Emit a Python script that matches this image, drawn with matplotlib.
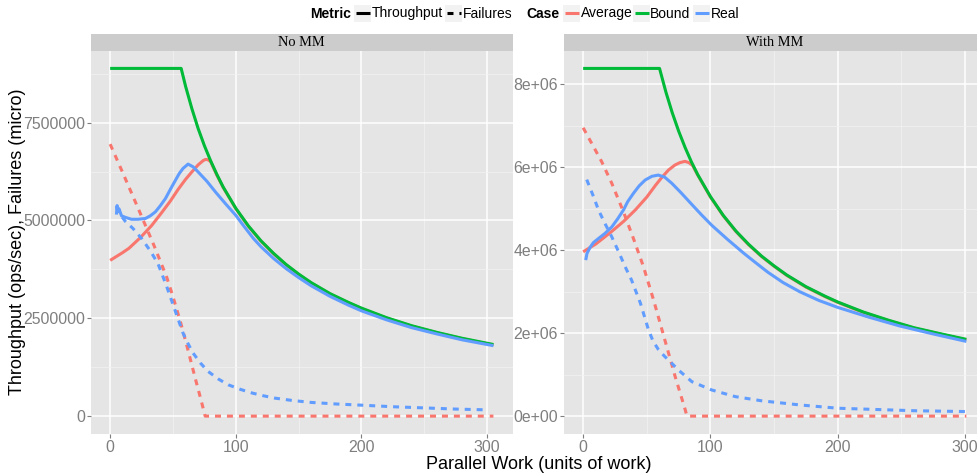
import matplotlib
matplotlib.use("Agg")
import matplotlib.pyplot as plt
from matplotlib.lines import Line2D
from matplotlib.patches import Rectangle
from matplotlib.ticker import FixedLocator

plt.rcParams['font.family'] = ['Liberation Sans', 'DejaVu Sans']
plt.rcParams['lines.scale_dashes'] = False

# ---------------- data (values in millions) ----------------
# Panel "No MM"
nomm_bound_x = [0, 56.5, 60, 65, 70, 75, 80, 85, 90, 100, 110, 120, 130, 140, 150, 160, 175, 190, 200, 220, 240, 260, 280, 305]
nomm_bound_y = [8.885, 8.885, 8.43, 7.86, 7.35, 6.91, 6.52, 6.17, 5.85, 5.31, 4.86, 4.48, 4.16, 3.875, 3.63, 3.41, 3.13, 2.90, 2.76, 2.515, 2.31, 2.14, 1.99, 1.83]
nomm_avg_x = [0, 5, 10, 15, 24, 33, 41, 48, 54, 60, 65, 70, 74, 76, 78, 80, 85, 90, 100, 110, 120, 130, 140, 150, 160, 175, 190, 200, 220, 240, 260, 280, 305]
nomm_avg_y = [3.98, 4.08, 4.18, 4.29, 4.56, 4.87, 5.20, 5.50, 5.79, 6.05, 6.24, 6.42, 6.53, 6.56, 6.55, 6.50, 6.15, 5.84, 5.30, 4.85, 4.47, 4.15, 3.865, 3.62, 3.40, 3.12, 2.89, 2.75, 2.505, 2.30, 2.13, 1.98, 1.82]
nomm_real_x = [5, 5.5, 6, 7, 9, 12, 17, 22, 28, 32, 36, 40, 44, 48, 52, 55, 58, 62, 66, 70, 77, 84, 92, 100, 107, 114, 120, 130, 140, 150, 160, 175, 190, 200, 220, 240, 260, 280, 305]
nomm_real_y = [5.15, 5.38, 5.22, 5.30, 5.12, 5.08, 5.03, 5.03, 5.05, 5.12, 5.22, 5.38, 5.56, 5.80, 6.03, 6.20, 6.33, 6.44, 6.37, 6.24, 6.00, 5.72, 5.42, 5.13, 4.83, 4.54, 4.33, 4.03, 3.77, 3.54, 3.33, 3.06, 2.83, 2.69, 2.46, 2.26, 2.10, 1.95, 1.80]
nomm_avgfail_x = [0, 10, 22, 35, 45, 50, 56, 62, 68, 72, 75.6, 305]
nomm_avgfail_y = [6.95, 6.22, 5.33, 4.35, 3.55, 3.05, 2.40, 1.68, 0.93, 0.45, 0.0, 0.0]
nomm_realfail_x = [5, 8, 12, 18, 25, 32, 38, 41, 45, 52, 58, 62, 66, 72, 78, 86, 94, 104, 113, 122, 131, 145, 160, 180, 200, 225, 250, 275, 300]
nomm_realfail_y = [5.35, 5.15, 4.98, 4.80, 4.54, 4.22, 3.90, 3.65, 3.31, 2.67, 2.12, 1.85, 1.61, 1.35, 1.14, 0.95, 0.80, 0.68, 0.59, 0.52, 0.46, 0.40, 0.35, 0.31, 0.28, 0.24, 0.21, 0.18, 0.16]

# Panel "With MM"
mm_bound_x = [0, 60, 65, 70, 75, 80, 85, 90, 100, 110, 120, 130, 140, 150, 160, 175, 190, 200, 220, 240, 260, 280, 301]
mm_bound_y = [8.38, 8.38, 7.81, 7.31, 6.87, 6.48, 6.13, 5.82, 5.29, 4.84, 4.46, 4.14, 3.86, 3.62, 3.40, 3.12, 2.89, 2.75, 2.51, 2.31, 2.13, 1.99, 1.85]
mm_avg_x = [0, 10, 22, 32, 41, 50, 57, 62, 67, 72, 76, 80, 83, 86, 90, 100, 110, 120, 130, 140, 150, 160, 175, 190, 200, 220, 240, 260, 280, 301]
mm_avg_y = [3.96, 4.15, 4.44, 4.70, 4.97, 5.28, 5.57, 5.76, 5.93, 6.05, 6.11, 6.14, 6.11, 6.04, 5.81, 5.28, 4.83, 4.45, 4.13, 3.85, 3.61, 3.39, 3.11, 2.88, 2.74, 2.50, 2.30, 2.12, 1.98, 1.84]
mm_real_x = [2, 3, 5.5, 8, 12, 17, 22.5, 27, 31.7, 35, 39.5, 44, 48.7, 54, 59, 64, 69.7, 77, 85.4, 93, 101, 113, 126, 135, 145, 157, 170, 185, 200, 225, 249, 275, 301]
mm_real_y = [3.76, 3.92, 4.07, 4.18, 4.28, 4.40, 4.56, 4.75, 4.97, 5.17, 5.37, 5.55, 5.69, 5.78, 5.81, 5.76, 5.61, 5.38, 5.10, 4.85, 4.60, 4.27, 3.93, 3.71, 3.47, 3.22, 3.00, 2.79, 2.62, 2.38, 2.17, 1.98, 1.80]
mm_avgfail_x = [0, 14.6, 22.5, 31.7, 39.5, 47.4, 55.3, 64.5, 72.3, 80.2, 81.5, 301]
mm_avgfail_y = [6.95, 6.13, 5.61, 4.92, 4.28, 3.60, 2.80, 1.80, 0.95, 0.15, 0.0, 0.0]
mm_realfail_x = [2.8, 8, 12, 17, 22.5, 28, 33, 38, 42, 45, 51.3, 55, 59.2, 64, 68.4, 74.9, 85.4, 101, 119.5, 140, 170, 200, 230, 260, 301]
mm_realfail_y = [5.70, 5.30, 4.97, 4.65, 4.32, 3.95, 3.60, 3.28, 2.96, 2.72, 2.08, 1.80, 1.60, 1.44, 1.31, 1.11, 0.83, 0.63, 0.47, 0.37, 0.27, 0.19, 0.16, 0.13, 0.11]

panel_titles = ['No MM', 'With MM']
nomm_yticks = [0, 2500000, 5000000, 7500000]
nomm_ylabels = ['0', '2500000', '5000000', '7500000']
mm_yticks = [0, 2e6, 4e6, 6e6, 8e6]
mm_ylabels = ['0e+00', '2e+06', '4e+06', '6e+06', '8e+06']
xticks = [0, 100, 200, 300]
xlabels = ['0', '100', '200', '300']
case_names = ['Average', 'Bound', 'Real']
metric_names = ['Throughput', 'Failures']

# ---------------- style ----------------
C_AVG, C_BND, C_REAL = '#F8766D', '#00BA38', '#619CFF'
LW = 2.2
DASH = (0, (4.3, 4.3))
W, H = 977, 473
fig = plt.figure(figsize=(W / 100, H / 100), dpi=100)


def fx(px):
    return px / W


def fy(py):
    return 1 - py / H


panels = [
    dict(title=panel_titles[0], left=91, width=421.6, xlim=(-15.25, 320.25), ylim=(-0.444e6, 9.33e6),
         yticks=nomm_yticks, ylabels=nomm_ylabels, yminor=[1.25e6, 3.75e6, 6.25e6, 8.75e6],
         series=[(nomm_avg_x, nomm_avg_y, C_AVG, '-'), (nomm_bound_x, nomm_bound_y, C_BND, '-'),
                 (nomm_real_x, nomm_real_y, C_REAL, '-'),
                 (nomm_avgfail_x, nomm_avgfail_y, C_AVG, DASH), (nomm_realfail_x, nomm_realfail_y, C_REAL, DASH)]),
    dict(title=panel_titles[1], left=564, width=421.5, xlim=(-15.05, 316.05), ylim=(-0.419e6, 8.80e6),
         yticks=mm_yticks, ylabels=mm_ylabels, yminor=[1e6, 3e6, 5e6, 7e6],
         series=[(mm_avg_x, mm_avg_y, C_AVG, '-'), (mm_bound_x, mm_bound_y, C_BND, '-'),
                 (mm_real_x, mm_real_y, C_REAL, '-'),
                 (mm_avgfail_x, mm_avgfail_y, C_AVG, DASH), (mm_realfail_x, mm_realfail_y, C_REAL, DASH)]),
]

top_px, bot_px, strip_top = 51, 433.5, 34
for p in panels:
    ax = fig.add_axes([fx(p['left']), fy(bot_px), p['width'] / W, (bot_px - top_px) / H])
    ax.set_facecolor('#E5E5E5')
    for s in ax.spines.values():
        s.set_visible(False)
    for xs, ys, col, ls in p['series']:
        ax.plot(xs, [v * 1e6 for v in ys], color=col, lw=LW, linestyle=ls,
                solid_capstyle='butt', dash_capstyle='butt', solid_joinstyle='round')
    ax.set_xlim(*p['xlim'])
    ax.set_ylim(*p['ylim'])
    ax.set_xticks(xticks)
    ax.set_xticklabels(xlabels)
    ax.set_yticks(p['yticks'])
    ax.set_yticklabels(p['ylabels'])
    ax.xaxis.set_minor_locator(FixedLocator([50, 150, 250]))
    ax.yaxis.set_minor_locator(FixedLocator(p['yminor']))
    ax.grid(which='major', color='white', lw=1.1)
    ax.grid(which='minor', color='#F2F2F2', lw=0.55)
    ax.set_axisbelow(True)
    ax.tick_params(which='major', length=2.9, width=0.8, color='#7F7F7F', labelcolor='#7F7F7F',
                   labelsize=11.4)
    ax.tick_params(axis='y', pad=1.5)
    ax.tick_params(axis='x', pad=2.0)
    ax.tick_params(which='minor', length=0)
    # strip
    sax = fig.add_axes([fx(p['left']), fy(top_px), p['width'] / W, (top_px - strip_top) / H])
    sax.set_facecolor('#CCCCCC')
    sax.set_xticks([])
    sax.set_yticks([])
    for s in sax.spines.values():
        s.set_visible(False)
    sax.text(0.5, 0.5, p['title'], ha='center', va='center', fontsize=10.4,
             family=['Liberation Serif', 'DejaVu Serif'], transform=sax.transAxes)

# axis titles
fig.text(fx(17.5), fy(242), 'Throughput (ops/sec), Failures (micro)', rotation=90,
         ha='center', va='center', fontsize=13)
fig.text(fx(538.5), fy(468.5), 'Parallel Work (units of work)', ha='center', va='baseline', fontsize=13)

# legend (top)
ly = 13.5
fig.text(fx(310), fy(ly), 'Metric', fontweight='bold', fontsize=10, ha='left', va='center')
fig.text(fx(526), fy(ly), 'Case', fontweight='bold', fontsize=10, ha='left', va='center')
keys = [
    (354, 'black', '-', metric_names[0], 372),
    (445, 'black', (0, (4.3, 4.3)), metric_names[1], 463),
    (563, C_AVG, '-', case_names[0], 581),
    (633, C_BND, '-', case_names[1], 650),
    (693, C_REAL, '-', case_names[2], 711),
]
for kx, col, ls, lab, tx in keys:
    fig.add_artist(Rectangle((fx(kx), fy(ly + 8.5)), 17 / W, 17 / H, transform=fig.transFigure,
                             facecolor='#F2F2F2', edgecolor='none'))
    fig.add_artist(Line2D([fx(kx + 1.5), fx(kx + 15.5)], [fy(ly), fy(ly)], transform=fig.transFigure,
                          color=col, lw=LW, linestyle=ls, solid_capstyle='butt', dash_capstyle='butt'))
    fig.text(fx(tx), fy(ly), lab, fontsize=10, ha='left', va='center')

fig.savefig('out.png', dpi=100)
